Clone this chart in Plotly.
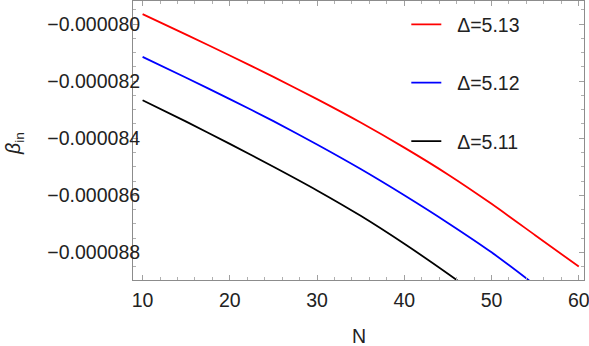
import plotly.graph_objects as go

# Data (beta_in values in units of 1e-6)
N = [10, 15, 20, 25, 30, 35, 40, 45, 50, 55, 60]
beta_513 = [-79.65, -80.37, -81.10, -81.85, -82.63, -83.45, -84.33, -85.27, -86.30, -87.40, -88.50]
beta_512 = [-81.15, -81.88, -82.63, -83.40, -84.22, -85.08, -86.00, -86.97, -88.00, -89.15, -90.35]
beta_511 = [-82.67, -83.42, -84.20, -85.00, -85.83, -86.72, -87.70, -88.75, -89.85, -91.00, -92.20]
labels = ["Δ=5.13", "Δ=5.12", "Δ=5.11"]
colors = ["#ff0000", "#0000ff", "#000000"]
scale = 1e-6

fig = go.Figure()
for i, (ys, lab, col) in enumerate(zip([beta_513, beta_512, beta_511], labels, colors)):
    fig.add_trace(go.Scatter(
        x=N, y=[v * scale for v in ys], mode="lines", line=dict(color=col, width=1.8, shape="spline", smoothing=0.6),
        name="\u00a0\u00a0" + lab, legendgroup=str(i)))

FONT = "Liberation Sans, Arial"
axis_common = dict(
    showline=True, linecolor="#8c8c8c", linewidth=1, mirror="ticks",
    ticks="inside", ticklen=5, tickcolor="#a0a0a0", tickwidth=1,
    showgrid=False, zeroline=False, automargin=False, ticklabeloverflow="allow",
    tickfont=dict(family=FONT, size=19.5, color="#222222"),
)

fig.update_xaxes(
    range=[8.9, 60.6], tickvals=[10, 20, 30, 40, 50, 60],
    minor=dict(dtick=2, ticks="inside", ticklen=3, tickcolor="#b0b0b0", tick0=0),
    ticklabelstandoff=3,
    **axis_common)
fig.update_yaxes(
    range=[-88.97e-6, -79.19e-6], dtick=2e-6, tick0=-80e-6, tickformat=".6f",
    minor=dict(dtick=0.5e-6, ticks="inside", ticklen=3, tickcolor="#b0b0b0"),
    ticklabelstandoff=-12,
    **axis_common)

title_font = dict(family=FONT, size=19.5, color="#222222")
fig.add_annotation(text="N", xref="paper", yref="paper", x=0.502, y=-0.201,
                   xanchor="center", yanchor="middle", showarrow=False, borderpad=0, font=title_font)
fig.add_annotation(text="<i>β</i><sub>in</sub>", xref="paper", yref="paper", x=-0.264, y=0.491,
                   xanchor="center", yanchor="middle", textangle=-90, showarrow=False, font=title_font)

fig.update_layout(
    width=589, height=346,
    margin=dict(l=133, r=5, t=1, b=66),
    paper_bgcolor="white", plot_bgcolor="white",
    showlegend=True,
    legend=dict(x=0.606, y=0.985, xanchor="left", yanchor="top", bgcolor="rgba(0,0,0,0)",
                font=dict(family=FONT, size=19.5, color="#222222"),
                tracegroupgap=30, itemwidth=30),
)

fig.write_html("out.html", config={"displayModeBar": False},
               post_script="document.body.style.margin='0px';document.body.style.overflow='hidden';")
